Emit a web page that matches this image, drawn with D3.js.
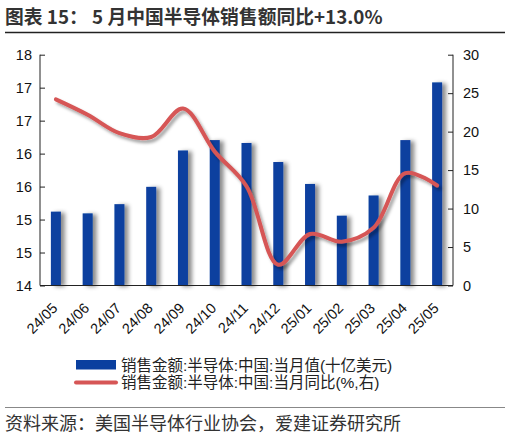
<!DOCTYPE html>
<html><head><meta charset="utf-8">
<script src="https://cdn.jsdelivr.net/npm/d3@7"></script>
<style>body{margin:0;background:#fff;} svg{display:block;}</style>
</head><body>
<svg id="c" width="510" height="439"></svg>
<script>
const categories = ["24/05","24/06","24/07","24/08","24/09","24/10","24/11","24/12","25/01","25/02","25/03","25/04","25/05"];
const salesValues = [15.28,15.25,15.41,15.71,16.34,16.52,16.47,16.14,15.76,15.21,15.56,16.52,17.52];
const yoyValues = [24.2,22.2,19.8,19.3,23.0,17.4,12.9,2.7,6.7,5.7,7.5,14.6,13.0];
const leftTickLabels = ["14","15","15","16","16","17","17","18"];
const rightTickLabels = ["0","5","10","15","20","25","30"];
const titleText = "图表 15： 5 月中国半导体销售额同比+13.0%";
const legendLabels = ["销售金额:半导体:中国:当月值(十亿美元)","销售金额:半导体:中国:当月同比(%,右)"];
const sourceText = "资料来源：美国半导体行业协会，爱建证券研究所";

const svg = d3.select("#c");
const font = "Liberation Sans, Arial, sans-serif";
const cjk = "'Noto Sans CJK SC', sans-serif";
const mixed = "'Liberation Sans', 'Noto Sans CJK SC', sans-serif";
const m = {l:40, r:453, t:54.7, b:285.5};

const defs = svg.append("defs");
const f1 = defs.append("filter").attr("id","barShadow").attr("x","-50%").attr("y","-10%").attr("width","250%").attr("height","120%");
f1.append("feDropShadow").attr("dx",4).attr("dy",1).attr("stdDeviation",2.2).attr("flood-color","#000").attr("flood-opacity",0.45);
const f2 = defs.append("filter").attr("id","lineShadow").attr("x","-10%").attr("y","-10%").attr("width","120%").attr("height","130%");
f2.append("feDropShadow").attr("dx",2.5).attr("dy",3).attr("stdDeviation",1.8).attr("flood-color","#000").attr("flood-opacity",0.35);

// title
svg.append("text").attr("x",5).attr("y",24).attr("font-family",cjk).attr("font-weight","bold")
  .attr("font-size",18.8).attr("fill","#333").text(titleText);
svg.append("line").attr("x1",5).attr("x2",505).attr("y1",32.5).attr("y2",32.5).attr("stroke","#222").attr("stroke-width",1.6);

const x = d3.scaleBand().domain(categories).range([m.l,m.r]).padding(0);
const yL = d3.scaleLinear().domain([14,18]).range([m.b,m.t]);
const yR = d3.scaleLinear().domain([0,30]).range([m.b,m.t]);

const leftTicks = leftTickLabels.map((d,i)=>14 + i*4/(leftTickLabels.length-1));
const axL = d3.axisLeft(yL).tickValues(leftTicks).tickSize(-5).tickPadding(8)
  .tickFormat((d,i)=>leftTickLabels[i]);
const gL = svg.append("g").attr("transform",`translate(${m.l},0)`).call(axL);
gL.select(".domain").attr("d",`M0,${m.t}V${m.b}`);
gL.selectAll("text").attr("font-family",font).attr("font-size",14.5).attr("fill","#111");

const axR = d3.axisRight(yR).tickValues(rightTickLabels.map(Number)).tickSize(-5).tickPadding(10)
  .tickFormat((d,i)=>rightTickLabels[i]);
const gR = svg.append("g").attr("transform",`translate(${m.r},0)`).call(axR);
gR.select(".domain").attr("d",`M0,${m.t}V${m.b}`);
gR.selectAll("text").attr("font-family",font).attr("font-size",14.5).attr("fill","#111");

[gL,gR].forEach(g=>{g.selectAll("line,path").attr("stroke","#222");});

// bars
const bw = 10;
svg.append("g").selectAll("rect").data(salesValues).join("rect")
  .attr("x",(d,i)=>x(categories[i])+x.bandwidth()/2-bw/2)
  .attr("width",bw)
  .attr("y",d=>yL(d))
  .attr("height",d=>m.b-yL(d))
  .attr("fill","#0a3f9f")
  .attr("filter","url(#barShadow)");

// bottom axis line
svg.append("line").attr("x1",m.l).attr("x2",m.r).attr("y1",m.b).attr("y2",m.b).attr("stroke","#222");

// line
const line = d3.line().x((d,i)=>x(categories[i])+x.bandwidth()/2).y(d=>yR(d)).curve(d3.curveCatmullRom.alpha(0.5));
svg.append("path").datum(yoyValues).attr("d",line).attr("fill","none")
  .attr("stroke","#d65656").attr("stroke-width",4).attr("stroke-linecap","round").attr("stroke-linejoin","round")
  .attr("filter","url(#lineShadow)");

// x labels
svg.append("g").selectAll("text").data(categories).join("text")
  .attr("transform",(d)=>`translate(${x(d)+x.bandwidth()/2+2.5},${309}) rotate(-45)`)
  .attr("text-anchor","end")
  .attr("font-family",font).attr("font-size",14.5).attr("fill","#111")
  .text(d=>d);

// legend
svg.append("rect").attr("x",76).attr("y",360).attr("width",40).attr("height",9.5).attr("fill","#0a3f9f");
svg.append("line").attr("x1",76).attr("x2",116).attr("y1",382.5).attr("y2",382.5).attr("stroke","#d65656").attr("stroke-width",4).attr("stroke-linecap","round");
svg.append("g").selectAll("text").data(legendLabels).join("text")
  .attr("x",121).attr("y",(d,i)=>370.5+i*17.5)
  .attr("font-family",mixed).attr("font-size",15.5).attr("fill","#222").text(d=>d);

// source
svg.append("line").attr("x1",5).attr("x2",505).attr("y1",407.5).attr("y2",407.5).attr("stroke","#888").attr("stroke-width",1);
svg.append("text").attr("x",5).attr("y",430).attr("font-family",cjk).attr("font-size",18).attr("fill","#333").text(sourceText);
</script>
</body></html>
